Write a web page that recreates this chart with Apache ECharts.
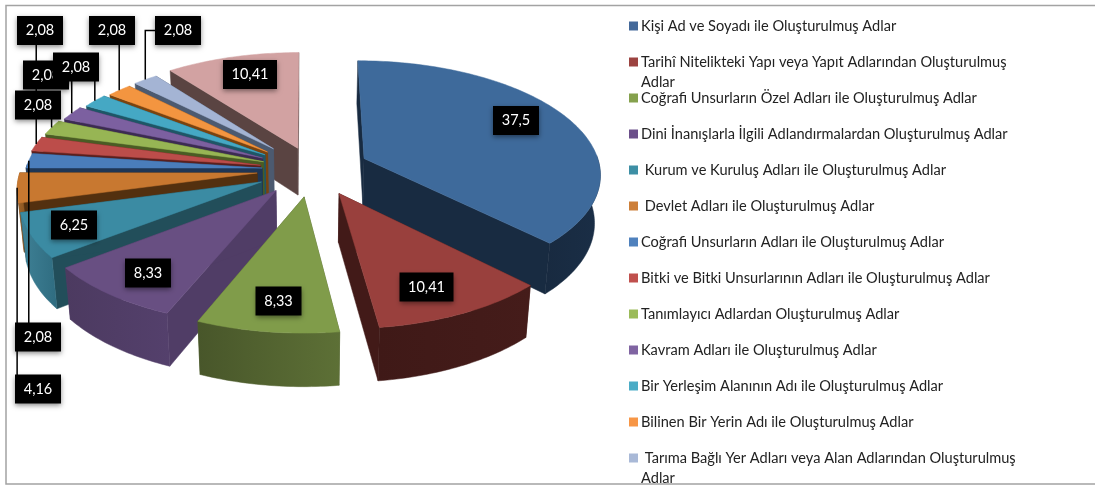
<!DOCTYPE html>
<html><head><meta charset="utf-8">
<style>html,body{margin:0;padding:0;background:#fff}#c{width:1095px;height:485px}</style>
<script src="https://cdn.jsdelivr.net/npm/echarts@6/dist/echarts.min.js"></script>
</head><body><div id="c"></div>
<script>
// ---- data ----
const categories = [
  'Kişi Ad ve Soyadı ile Oluşturulmuş Adlar',
  'Tarihî Nitelikteki Yapı veya Yapıt Adlarından Oluşturulmuş Adlar',
  'Coğrafi Unsurların Özel Adları ile Oluşturulmuş Adlar',
  'Dini İnanışlarla İlgili Adlandırmalardan Oluşturulmuş Adlar',
  ' Kurum ve Kuruluş Adları ile Oluşturulmuş Adlar',
  ' Devlet Adları ile Oluşturulmuş Adlar',
  'Coğrafi Unsurların Adları ile Oluşturulmuş Adlar',
  'Bitki ve Bitki Unsurlarının Adları ile Oluşturulmuş Adlar',
  'Tanımlayıcı Adlardan Oluşturulmuş Adlar',
  'Kavram Adları ile Oluşturulmuş Adlar',
  'Bir Yerleşim Alanının Adı ile Oluşturulmuş Adlar',
  'Bilinen Bir Yerin Adı ile Oluşturulmuş Adlar',
  ' Tarıma Bağlı Yer Adları veya Alan Adlarından Oluşturulmuş Adlar'
];
const values = [37.5, 10.41, 8.33, 8.33, 6.25, 4.16, 2.08, 2.08, 2.08, 2.08, 2.08, 2.08, 2.08, 10.41];
const valueLabels = ['37,5','10,41','8,33','8,33','6,25','4,16','2,08','2,08','2,08','2,08','2,08','2,08','2,08','10,41'];

// ---- styling ----
const topColors = ['#3e6a9b','#99403d','#809c4a','#684f82','#3b8ba3','#c87830','#4a7dbb','#bc4d4a','#97b554','#7c60a0','#45a8c4','#f39540','#a4b4d4','#d2a2a2'];
const sideColors = ['#182b41','#421a18','#4f5f2e','#503d66','#224e5a','#53300f','#1f3655','#5a1f1d','#4a5c24','#3c2b52','#1e5666','#7a430f','#4c5a70','#5a4442'];
const rimColors = [['#1a2e46','#182a40'],['#451c1a','#3f1917'],['#5d7036','#48562a'],['#54406c','#4c3a60'],['#2f6c80','#3f8196'],['#8a5520','#a0642a'],['#1f3655','#1f3655'],['#5a1f1d','#5a1f1d'],['#4a5c24','#4a5c24'],['#3c2b52','#3c2b52'],['#1e5666','#1e5666'],['#7a430f','#7a430f'],['#4c5a70','#4c5a70'],['#5a4442','#5a4442']];
const legendColors = ['#44699a','#9c4340','#85a14d','#6b4f8a','#3d8fa5','#cd7f39','#4f81bd','#c0504d','#9bbb59','#8064a2','#4bacc6','#f79646','#a9b9d7'];

// ---- layout: projection of the tilted pie, and how far each slice is pulled out ----
const view = {cx:307, cy:152, A:232, B:108, p:0.12, H:47, k:0.98};
const explode = [[.244,.06],[.132,.368],[-.012,.396],[-.128,.343],[-.19,.268],[-.21,.19],[-.19,.146],[-.197,.121],[-.185,.089],[-.19,.055],[-.18,.026],[-.17,0],[-.145,-.03],[-.04,-.035]];
const radiusScale = [1,1,1,1,1,1,1,1,1,.97,.95,.93,.93,1];
const labelAt = [[516,120.5],[426.5,287],[278.5,301],[148,273],[74,225],[38,389],[38,337],[40,30.5],[38,105],[46,75],[76,67],[112,30.5],[178,30.5],[250,74.5]];
const leader = [false,false,false,false,false,true,true,true,true,true,true,true,true,false];
const wrappedLegend = [1,12];

const total = values.reduce((a,b)=>a+b,0);
const starts = []; values.reduce((a,v,i)=>(starts[i]=a, a+v*360/total),0);
const rad = d=>d*Math.PI/180;

function project(X,Z,drop){
  const s = 1/(1-view.p*Z);
  let x = view.cx+view.A*X*s, y = view.cy+view.B*Z*s;
  if(drop){ x = view.cx+(x-view.cx)*view.k; y += view.H*(1+0.1*Z); }
  return [x,y];
}
const rimPoint = (i,deg,drop)=>project(explode[i][0]+radiusScale[i]*Math.sin(rad(deg)), explode[i][1]-radiusScale[i]*Math.cos(rad(deg)), drop);
const apexPoint = (i,drop)=>project(explode[i][0],explode[i][1],drop);

function sliceItem(i){
  return function(params,api){
    const sweep = api.value(0)*360/total, a0 = starts[i], a1 = a0+sweep;
    const arc = [];
    for(let n=0;n<=Math.ceil(sweep);n++) arc.push(a0+sweep*n/Math.ceil(sweep));
    const poly = (pts,fill)=>({type:'polygon',shape:{points:pts},style:{fill:fill,stroke:fill,lineWidth:0.5}});
    const wall = d=>poly([apexPoint(i,false),rimPoint(i,d,false),rimPoint(i,d,true),apexPoint(i,true)],sideColors[i]);
    const children = [wall(a0),wall(a1)];
    const front = arc.filter(d=>d>=88&&d<=272);
    if(front.length>1){
      children.push(poly(front.map(d=>rimPoint(i,d,false)).concat(front.slice().reverse().map(d=>rimPoint(i,d,true))),
        new echarts.graphic.LinearGradient(0,0,1,0,[{offset:0,color:rimColors[i][1]},{offset:1,color:rimColors[i][0]}])));
    }
    children.push(poly([apexPoint(i,false)].concat(arc.map(d=>rimPoint(i,d,false))),topColors[i]));
    return {type:'group',silent:true,children:children};
  };
}

function labelItem(params,api){
  const i = params.dataIndex, c = labelAt[i], w = valueLabels[i].length>4?54:46, h = 29;
  const children = [];
  if(leader[i]){
    const tip = rimPoint(i,starts[i]+values[i]*180/total,false);
    children.push({type:'polyline',z2:1,shape:{points:[tip,[tip[0],c[1]],[c[0],c[1]]]},style:{stroke:'#000',lineWidth:1.5,fill:null}});
  }
  children.push({type:'rect',z2:10+2*i,shape:{x:c[0]-w/2,y:c[1]-h/2,width:w,height:h},
    style:{fill:'#000',shadowBlur:5,shadowColor:'rgba(0,0,0,0.45)',shadowOffsetY:2}});
  children.push({type:'text',z2:11+2*i,style:{x:c[0],y:c[1],text:valueLabels[i],fill:'#fff',font:'14.5px Lato',align:'center',verticalAlign:'middle'}});
  return {type:'group',silent:true,children:children};
}

const backToFront = values.map((v,i)=>i).sort((a,b)=>(-Math.cos(rad(starts[a]+values[a]*180/total)))-(-Math.cos(rad(starts[b]+values[b]*180/total))));

const series = values.map((v,i)=>({
  type:'custom', name:categories[i], coordinateSystem:'none', renderItem:sliceItem(i),
  data:[[v]], z:2+backToFront.indexOf(i)/100, animation:false, silent:true,
  itemStyle:{color:i<legendColors.length?legendColors[i]:topColors[i]}
}));
series.push({type:'custom',name:'labels',coordinateSystem:'none',renderItem:labelItem,data:values.map(v=>[v]),z:5,animation:false,silent:true});

const legendY = [26,62,98,134,170,206,242,278,314,350,386,422,458];
const legends = categories.map((name,i)=>{
  const wrapped = wrappedLegend.includes(i);
  return {
    data:[{name:name,icon:'rect'}], orient:'vertical', left:629, top:wrapped?legendY[i]-30:legendY[i]-10, padding:0,
    itemWidth:9, itemHeight:9, selectedMode:false, z:6,
    formatter:n=>wrapped?'\n'+n.replace(/ Adlar$/,'\nAdlar'):n,
    textStyle:{fontFamily:'Lato',fontSize:14.6,color:'#222',lineHeight:20,padding:[0,0,0,-2]}
  };
});

const chart = echarts.init(document.getElementById('c'),null,{renderer:'canvas'});
chart.setOption({
  animation:false, backgroundColor:'#fff',
  graphic:[{type:'rect',silent:true,z:0,shape:{x:6,y:5.5,width:1100,height:478.5},style:{fill:'#fff',stroke:'#a3a3a3',lineWidth:1.5}}],
  legend:legends, series:series
});
</script></body></html>
